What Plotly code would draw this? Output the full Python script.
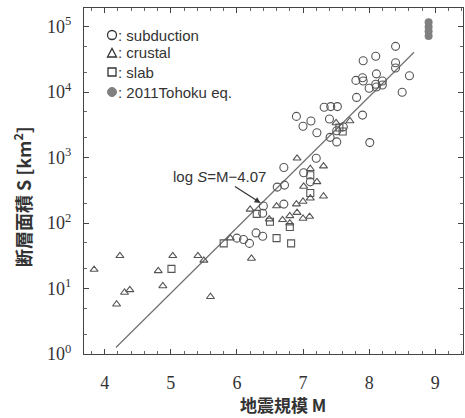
import plotly.graph_objects as go

# ---------------- data ----------------
sub_M = [6.00, 6.10, 6.19, 6.29, 6.39, 6.40, 6.39, 6.71, 6.61, 6.72, 6.71,
         7.01, 7.20, 7.11, 6.90, 7.00, 7.12, 7.21, 7.32, 7.42, 7.52, 7.40,
         7.41, 7.51, 7.51, 7.61, 7.81, 7.90, 8.01, 7.80, 7.90, 7.91, 7.91,
         8.10, 8.40, 8.40, 8.40, 8.61, 8.11, 8.20, 8.10, 8.11, 8.00, 8.20, 8.50]
sub_logS = [1.77, 1.75, 1.69, 1.85, 1.80, 2.26, 2.15, 2.29, 2.55, 2.58, 2.85,
            2.77, 2.99, 2.63, 3.63, 3.48, 3.56, 3.38, 3.77, 3.78, 3.78, 3.59,
            3.31, 3.24, 3.41, 3.47, 3.92, 3.65, 3.23, 4.18, 4.22, 4.17, 4.48,
            4.55, 4.70, 4.45, 4.37, 4.25, 4.28, 4.17, 4.12, 4.08, 4.06, 4.11, 4.00]

crust_M = [3.84, 4.23, 4.18, 4.30, 4.38, 4.81, 4.88, 5.03, 5.41, 5.50, 5.60,
           6.22, 5.90, 6.20, 6.60, 6.49, 6.69, 6.80, 6.80, 6.90, 6.91, 7.00,
           7.00, 7.10, 7.11, 7.31, 6.91, 7.31, 7.11, 7.21, 7.01, 7.50, 7.71]
crust_logS = [1.29, 1.50, 0.76, 0.94, 0.98, 1.27, 1.04, 1.50, 1.50, 1.43, 0.875,
              1.46, 1.77, 2.21, 2.26, 2.06, 2.05, 2.11, 2.00, 2.29, 2.16, 2.33,
              2.07, 2.10, 2.38, 2.41, 2.99, 2.87, 2.83, 2.63, 2.56, 3.53, 3.56]

slab_M = [5.01, 5.80, 6.30, 6.50, 6.80, 6.60, 6.82, 7.11, 7.11, 7.60, 7.55]
slab_logS = [1.30, 1.69, 2.14, 2.02, 1.94, 1.77, 1.69, 2.46, 2.73, 3.40, 3.46]

tohoku_M = [8.9, 8.9, 8.9, 8.9]
tohoku_logS = [5.07, 5.00, 4.93, 4.86]

fit_M = [4.17, 8.68]
fit_offset = -4.07

x_ticks = [4, 5, 6, 7, 8, 9]
y_tick_exp = [0, 1, 2, 3, 4, 5]

legend_labels = [": subduction", ": crustal", ": slab", ": 2011Tohoku eq."]

# ---------------- figure ----------------
C = "#555555"
TXT = "#333333"
fig = go.Figure()

def pw(v):
    return [10 ** a for a in v]

fig.add_trace(go.Scatter(x=fit_M, y=[10 ** (m + fit_offset) for m in fit_M],
                         mode="lines", line=dict(color="#707070", width=1.2)))
fig.add_trace(go.Scatter(x=sub_M, y=pw(sub_logS), mode="markers",
                         marker=dict(symbol="circle-open", size=8, color=C, line=dict(width=1.1))))
fig.add_trace(go.Scatter(x=crust_M, y=pw(crust_logS), mode="markers",
                         marker=dict(symbol="triangle-up-open", size=7, color=C, line=dict(width=1.1))))
fig.add_trace(go.Scatter(x=slab_M, y=pw(slab_logS), mode="markers",
                         marker=dict(symbol="square-open", size=7, color=C, line=dict(width=1.1))))
fig.add_trace(go.Scatter(x=tohoku_M, y=pw(tohoku_logS), mode="markers",
                         marker=dict(symbol="circle", size=8, color="#808080")))

L, R, T, B = 84, 2, 8, 64
W, H = 465, 418
PW, PH = W - L - R, H - T - B

def px(x):
    return (x - L) / PW

def py(y):
    return (H - B - y) / PH

# legend glyphs drawn as shapes
shapes = []
rows = [35, 53, 72, 92]
gx, r = 112, 4.5
shapes.append(dict(type="circle", xref="paper", yref="paper",
                   x0=px(gx - r), x1=px(gx + r), y0=py(rows[0] + r), y1=py(rows[0] - r),
                   line=dict(color=TXT, width=1.3)))
tri = f"M {px(gx - r)} {py(rows[1] + r - 0.5)} L {px(gx + r)} {py(rows[1] + r - 0.5)} L {px(gx)} {py(rows[1] - r)} Z"
shapes.append(dict(type="path", xref="paper", yref="paper", path=tri,
                   line=dict(color=TXT, width=1.3)))
shapes.append(dict(type="rect", xref="paper", yref="paper",
                   x0=px(gx - r + 0.5), x1=px(gx + r - 0.5), y0=py(rows[2] + r - 0.5), y1=py(rows[2] - r + 0.5),
                   line=dict(color=TXT, width=1.3)))
shapes.append(dict(type="circle", xref="paper", yref="paper",
                   x0=px(gx - r), x1=px(gx + r), y0=py(rows[3] + r), y1=py(rows[3] - r),
                   fillcolor="#808080", line=dict(color="#808080", width=1)))

annotations = []
for lab, ry in zip(legend_labels, rows):
    annotations.append(dict(text=lab, xref="paper", yref="paper", x=px(116), y=py(ry),
                            xanchor="left", yanchor="middle", showarrow=False,
                            font=dict(family="Liberation Sans, Arial", size=15, color=TXT)))

# fit-line label with arrow
arrow_M = 6.37
annotations.append(dict(text="log <i>S</i>=M−4.07", x=arrow_M, y=(arrow_M + fit_offset),
                        xref="x", yref="y", ax=-42, ay=-27, showarrow=True, arrowhead=2,
                        arrowsize=1, arrowwidth=1.2, arrowcolor=TXT, standoff=1,
                        font=dict(family="Liberation Sans, Arial", size=15, color=TXT)))

# axis titles
annotations.append(dict(text="地震規模 M", xref="paper", yref="paper", x=px(283), y=py(404),
                        xanchor="center", yanchor="middle", showarrow=False,
                        font=dict(family="Noto Sans CJK JP", size=17, color=TXT, weight="bold")))
annotations.append(dict(text="断層面積 S [km<sup>2</sup>]", xref="paper", yref="paper",
                        x=px(22), y=py(197), xanchor="center", yanchor="middle",
                        showarrow=False, textangle=-90,
                        font=dict(family="Noto Sans CJK JP", size=18, color=TXT, weight="bold")))

fig.update_layout(
    width=W, height=H, margin=dict(l=L, r=R, t=T, b=B),
    paper_bgcolor="white", plot_bgcolor="white", showlegend=False,
    shapes=shapes, annotations=annotations,
    xaxis=dict(range=[3.687, 9.42], tickvals=x_ticks, ticktext=[str(v) for v in x_ticks],
               ticks="inside", ticklen=5, tickcolor="#444444", showgrid=False, zeroline=False,
               showline=True, linecolor="#444444", linewidth=1, mirror="ticks",
               minor=dict(ticks="inside", ticklen=3, dtick=0.2, tickcolor="#666666", showgrid=False),
               ticklabelstandoff=12,
               tickfont=dict(family="Liberation Serif", size=18, color=TXT)),
    yaxis=dict(type="log", range=[0, 5.286], tickvals=[10 ** e for e in y_tick_exp],
               ticktext=[f"10<sup>{e}</sup>" for e in y_tick_exp],
               ticks="inside", ticklen=5, tickcolor="#444444", showgrid=False, zeroline=False,
               showline=True, linecolor="#444444", linewidth=1, mirror="ticks",
               minor=dict(ticks="inside", ticklen=3, tickcolor="#666666", showgrid=False),
               ticklabelstandoff=8,
               tickfont=dict(family="Liberation Serif", size=18, color=TXT)),
)

fig.write_html("out.html")
